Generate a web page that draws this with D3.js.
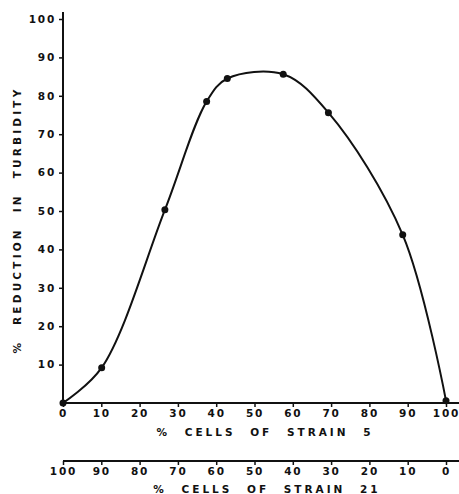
<!DOCTYPE html>
<html>
<head>
<meta charset="utf-8">
<script src="https://cdn.jsdelivr.net/npm/d3@7"></script>
<style>
  body { margin: 0; background: #fff; }
  text { font-family: "DejaVu Sans", sans-serif; fill: #111; }
</style>
</head>
<body>
<div id="chart"></div>
<script>
// % cells of strain 5 vs % reduction in turbidity
const strain5 = [0, 10.1, 26.6, 37.5, 42.9, 57.5, 69.3, 88.7, 100];
const reduction = [0, 9.2, 50.3, 78.5, 84.5, 85.6, 75.6, 43.8, 0.6];

const xTicks = [0, 10, 20, 30, 40, 50, 60, 70, 80, 90, 100];
const yTicks = [10, 20, 30, 40, 50, 60, 70, 80, 90, 100];
const strain21Ticks = [100, 90, 80, 70, 60, 50, 40, 30, 20, 10, 0];

const width = 459, height = 494;

const svg = d3.select("#chart").append("svg")
    .attr("width", width)
    .attr("height", height);

const x = d3.scaleLinear().domain([0, 100]).range([63, 446]);
const x21 = d3.scaleLinear().domain([100, 0]).range([63, 446]);
const y = d3.scaleLinear().domain([0, 100]).range([403, 19]);

const tickFont = g => g.selectAll("text")
    .attr("font-size", "10.5px")
    .attr("font-weight", "bold")
    .attr("letter-spacing", "1.8px")
    .attr("fill", "#111");

// y axis
const yAxis = svg.append("g")
    .attr("transform", `translate(${x(0)},0)`)
    .call(d3.axisLeft(y).tickValues(yTicks).tickSize(4).tickSizeOuter(0).tickPadding(3))
    .call(g => g.select(".domain").remove())
    .call(tickFont);
yAxis.selectAll("line").attr("stroke", "#111").attr("stroke-width", 1.5);
svg.append("line")
    .attr("x1", x(0)).attr("x2", x(0))
    .attr("y1", 12).attr("y2", y(0))
    .attr("stroke", "#111").attr("stroke-width", 2);

// x axis (strain 5)
const xAxis = svg.append("g")
    .attr("transform", `translate(0,${y(0)})`)
    .call(d3.axisBottom(x).tickValues(xTicks).tickSize(4).tickSizeOuter(0).tickPadding(3))
    .call(g => g.select(".domain").remove())
    .call(tickFont);
xAxis.selectAll("line").attr("stroke", "#111").attr("stroke-width", 1.5);
svg.append("line")
    .attr("x1", x(0)).attr("x2", width)
    .attr("y1", y(0)).attr("y2", y(0))
    .attr("stroke", "#111").attr("stroke-width", 2);

// second x axis (strain 21)
const axis21Y = 461;
const x21Axis = svg.append("g")
    .attr("transform", `translate(0,${axis21Y})`)
    .call(d3.axisBottom(x21).tickValues(strain21Ticks).tickSize(4).tickSizeOuter(0).tickPadding(3))
    .call(g => g.select(".domain").remove())
    .call(tickFont);
x21Axis.selectAll("line").attr("stroke", "#111").attr("stroke-width", 1.5);
svg.append("line")
    .attr("x1", x21(100)).attr("x2", width)
    .attr("y1", axis21Y).attr("y2", axis21Y)
    .attr("stroke", "#111").attr("stroke-width", 2);

// axis titles
const titleStyle = t => t
    .attr("font-size", "10.5px")
    .attr("font-weight", "bold")
    .attr("letter-spacing", "3px")
    .attr("word-spacing", "8px")
    .attr("text-anchor", "middle");

svg.append("text").attr("x", 265).attr("y", 436)
    .text("% CELLS OF STRAIN 5").call(titleStyle);
svg.append("text").attr("x", 267).attr("y", 493)
    .text("% CELLS OF STRAIN 21").call(titleStyle);
svg.append("text")
    .attr("transform", "translate(21,220) rotate(-90)")
    .text("% REDUCTION IN TURBIDITY").call(titleStyle)
    .attr("letter-spacing", "3.2px");

// curve
const pts = strain5.map((d, i) => [d, reduction[i]]);
const line = d3.line()
    .x(d => x(d[0]))
    .y(d => y(d[1]))
    .curve(d3.curveCatmullRom.alpha(0.5));

svg.append("path")
    .datum(pts)
    .attr("d", line)
    .attr("fill", "none")
    .attr("stroke", "#111")
    .attr("stroke-width", 2);

svg.selectAll("circle.pt")
    .data(pts)
    .enter().append("circle")
    .attr("class", "pt")
    .attr("cx", d => x(d[0]))
    .attr("cy", d => y(d[1]))
    .attr("r", 3.5)
    .attr("fill", "#111");
</script>
</body>
</html>
